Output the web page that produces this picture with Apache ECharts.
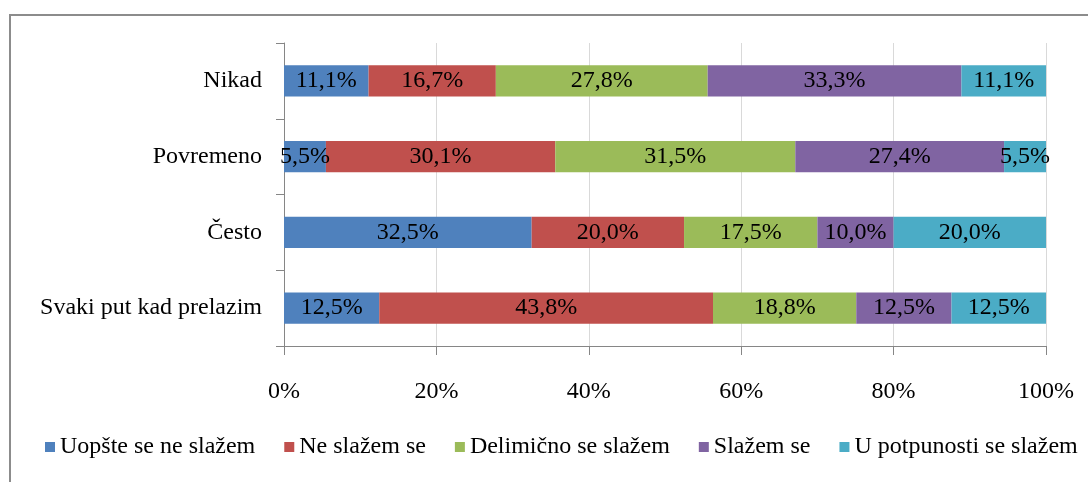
<!DOCTYPE html>
<html>
<head>
<meta charset="utf-8">
<script src="https://cdn.jsdelivr.net/npm/echarts@6/dist/echarts.min.js"></script>
<style>
  html, body { margin: 0; padding: 0; background: #fff; overflow: hidden; }
  #frame { position: absolute; left: 9px; top: 14px; width: 1100px; height: 500px; border: 2px solid #8c8c8c; box-sizing: border-box; }
  #chart { position: absolute; left: 0; top: 0; width: 1088px; height: 482px; }
</style>
</head>
<body>
<div id="frame"></div>
<div id="chart"></div>
<script>
  // kategorije (odozgo nadole)
  var categories = ['Nikad', 'Povremeno', 'Često', 'Svaki put kad prelazim'];
  var seriesNames = ['Uopšte se ne slažem', 'Ne slažem se', 'Delimično se slažem', 'Slažem se', 'U potpunosti se slažem'];
  var colors = ['#4F81BD', '#C0504D', '#9BBB59', '#8064A2', '#4BACC6'];

  // vrednosti po seriji, u redosledu kategorija
  var uopsteNe = [11.1, 5.5, 32.5, 12.5];
  var neSlazem = [16.7, 30.1, 20.0, 43.8];
  var delimicno = [27.8, 31.5, 17.5, 18.8];
  var slazem = [33.3, 27.4, 10.0, 12.5];
  var uPotpunosti = [11.1, 5.5, 20.0, 12.5];
  var values = [uopsteNe, neSlazem, delimicno, slazem, uPotpunosti];

  var font = '"Liberation Serif", "Times New Roman", serif';

  var chart = echarts.init(document.getElementById('chart'));

  var series = seriesNames.map(function (name, i) {
    return {
      name: name,
      type: 'bar',
      stack: 'total',
      barWidth: '41%',
      data: values[i],
      itemStyle: { color: colors[i] },
      label: {
        show: true,
        position: 'inside',
        color: '#000',
        fontFamily: font,
        fontSize: 24,
        formatter: function (p) {
          return p.value.toFixed(1).replace('.', ',') + '%';
        }
      }
    };
  });

  chart.setOption({
    animation: false,
    grid: { left: 284, right: 42, top: 43, bottom: 136 },
    legend: {
      data: seriesNames,
      bottom: 18,
      left: 40,
      icon: 'rect',
      itemWidth: 10,
      itemHeight: 10,
      itemGap: 29,
      textStyle: { fontFamily: font, fontSize: 24, color: '#000' }
    },
    xAxis: {
      type: 'value',
      min: 0,
      max: 100,
      interval: 20,
      axisLine: { show: true, lineStyle: { color: '#868686' } },
      axisTick: { show: true, length: 9, lineStyle: { color: '#868686' } },
      splitLine: { show: true, lineStyle: { color: '#d9d9d9' } },
      axisLabel: {
        margin: 34,
        formatter: '{value}%',
        color: '#000',
        fontFamily: font,
        fontSize: 24
      }
    },
    yAxis: {
      type: 'category',
      inverse: true,
      data: categories,
      axisLine: { show: true, lineStyle: { color: '#868686' } },
      axisTick: { show: true, length: 8, lineStyle: { color: '#868686' } },
      axisLabel: {
        margin: 22,
        color: '#000',
        fontFamily: font,
        fontSize: 24
      }
    },
    series: series
  });
</script>
</body>
</html>
